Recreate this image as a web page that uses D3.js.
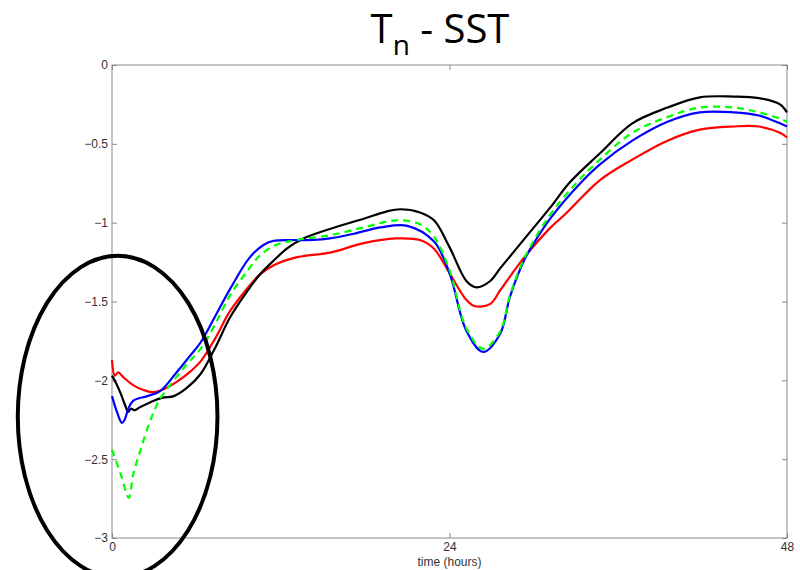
<!DOCTYPE html>
<html>
<head>
<meta charset="utf-8">
<script src="https://cdn.jsdelivr.net/npm/d3@7"></script>
<style>
  body { margin: 0; background: white; }
  svg { display: block; }
</style>
</head>
<body>
<svg width="800" height="570"></svg>
<script>
// data: [time (hours), Tn - SST]
var blackPts = [[0,-1.97],[0.3,-2.02],[0.6,-2.08],[0.9,-2.15],[1.15,-2.20],[1.35,-2.18],[1.6,-2.19],[2.0,-2.17],
  [2.7,-2.14],[3.6,-2.11],[4.4,-2.10],[5.3,-2.05],[6.3,-1.96],[7.3,-1.80],[8.4,-1.60],[9.5,-1.45],[10.5,-1.33],
  [11.5,-1.24],[12.5,-1.16],[13.6,-1.10],[15.5,-1.04],[17.9,-0.975],[19.5,-0.93],[20.5,-0.915],[21.9,-0.935],
  [22.9,-0.985],[24.0,-1.155],[25.2,-1.37],[25.9,-1.41],[26.9,-1.37],[27.6,-1.29],[28.8,-1.16],[30,-1.03],
  [31.2,-0.90],[32.5,-0.75],[34.7,-0.56],[37,-0.37],[39.5,-0.27],[41.8,-0.205],[44.2,-0.20],[46,-0.21],
  [47.5,-0.25],[48,-0.30]];

var redPts = [[0,-1.87],[0.2,-1.97],[0.45,-1.95],[0.8,-1.98],[1.5,-2.03],[2.2,-2.06],[2.9,-2.075],[3.6,-2.06],
  [4.6,-2.01],[5.5,-1.95],[6.3,-1.88],[7.3,-1.74],[8.4,-1.56],[9.5,-1.43],[10.5,-1.33],[11.5,-1.27],[13.1,-1.22],
  [15.5,-1.19],[17.9,-1.13],[20.2,-1.10],[21.9,-1.11],[22.9,-1.165],[24.0,-1.32],[25.2,-1.49],[25.8,-1.53],
  [26.9,-1.515],[27.6,-1.43],[28.8,-1.28],[29.5,-1.20],[31.2,-1.03],[32.3,-0.94],[34.7,-0.73],[37,-0.60],
  [39.5,-0.48],[41.8,-0.41],[44.2,-0.39],[46,-0.39],[47.5,-0.43],[48,-0.46]];

var bluePts = [[0,-2.10],[0.35,-2.20],[0.7,-2.27],[0.9,-2.25],[1.16,-2.18],[1.5,-2.13],[2.5,-2.10],[3.4,-2.07],
  [4.5,-1.96],[5.5,-1.85],[6.3,-1.76],[7.3,-1.60],[8.4,-1.42],[9.8,-1.22],[10.8,-1.14],[11.5,-1.115],[12.7,-1.11],
  [14.3,-1.11],[15.5,-1.10],[17.2,-1.07],[19.1,-1.03],[21,-1.02],[22.9,-1.12],[24.0,-1.32],[25.2,-1.685],
  [26.4,-1.82],[27.6,-1.705],[28.3,-1.47],[29.3,-1.24],[30,-1.13],[31.2,-0.97],[33.3,-0.75],[34.7,-0.63],
  [37,-0.48],[39.5,-0.36],[41.8,-0.30],[44.2,-0.30],[46,-0.32],[47.5,-0.37],[48,-0.39]];

var greenPts = [[0,-2.44],[0.6,-2.59],[1.2,-2.745],[1.5,-2.60],[2.0,-2.45],[2.7,-2.26],[3.4,-2.12],[4.4,-2.00],
  [5.3,-1.90],[6.3,-1.80],[7.3,-1.65],[8.4,-1.46],[9.6,-1.31],[10.5,-1.21],[11.7,-1.14],[13.1,-1.11],[15.5,-1.08],
  [17.9,-1.03],[20.2,-0.985],[21.9,-1.01],[22.9,-1.09],[24.0,-1.30],[25.2,-1.67],[26.4,-1.80],[27.6,-1.69],
  [28.3,-1.46],[29.3,-1.23],[31.0,-0.97],[33.0,-0.75],[34.7,-0.60],[37,-0.43],[39.5,-0.33],[41.8,-0.27],
  [44.2,-0.27],[46,-0.30],[47.5,-0.34],[48,-0.36]];

var xTicks = [0, 24, 48];
var yTicks = [0, -0.5, -1, -1.5, -2, -2.5, -3];

// ellipse marking the first hours: centre (t, v) and radii in data units
var ringCentre = [0.4, -2.23];
var ringRadius = [7.1, 1.02];

var svg = d3.select("svg");

var x = d3.scaleLinear().domain([0, 48]).range([112, 787]);
var y = d3.scaleLinear().domain([-3, 0]).range([538, 65]);

var axisColor = "#8a8a8a";
var fmt = function(d){ return d < 0 ? "\u2212" + Math.abs(d) : String(d); };

// title
var title = svg.append("text")
  .attr("x", 440)
  .attr("y", 43)
  .attr("text-anchor", "middle")
  .style("font-family", "'Open Sans', sans-serif")
  .style("font-size", "40px")
  .style("fill", "black");
title.append("tspan").text("T");
title.append("tspan").attr("dy", 12).style("font-size", "28px").text("n");
title.append("tspan").attr("dy", -12).text(" - SST");

// box
svg.append("rect")
  .attr("x", x(0)).attr("y", y(0))
  .attr("width", x(48) - x(0)).attr("height", y(-3) - y(0))
  .attr("fill", "none")
  .attr("stroke", axisColor)
  .attr("stroke-width", 1);

// axes with inward ticks
var gBottom = svg.append("g").attr("transform", "translate(0," + y(-3) + ")")
  .call(d3.axisBottom(x).tickValues(xTicks).tickSizeInner(-5).tickSizeOuter(0).tickPadding(5));
var gLeft = svg.append("g").attr("transform", "translate(" + x(0) + ",0)")
  .call(d3.axisLeft(y).tickValues(yTicks).tickFormat(fmt).tickSizeInner(-5).tickSizeOuter(0).tickPadding(4));
var gTop = svg.append("g").attr("transform", "translate(0," + y(0) + ")")
  .call(d3.axisTop(x).tickValues(xTicks).tickSizeInner(-5).tickSizeOuter(0).tickFormat(""));
var gRight = svg.append("g").attr("transform", "translate(" + x(48) + ",0)")
  .call(d3.axisRight(y).tickValues(yTicks).tickSizeInner(-5).tickSizeOuter(0).tickFormat(""));

[gBottom, gLeft, gTop, gRight].forEach(function(g){
  g.select(".domain").remove();
  g.selectAll("line").attr("stroke", axisColor);
  g.selectAll("text")
    .style("font-family", "'Liberation Sans', Arial, sans-serif")
    .style("font-size", "12px")
    .attr("fill", "#333");
});
// labels sit outside the box, not at the inner end of the tick
gLeft.selectAll("text").attr("x", -4);
gBottom.selectAll("text").attr("y", 4);

svg.append("text")
  .attr("x", x(24))
  .attr("y", 566)
  .attr("text-anchor", "middle")
  .style("font-family", "'Liberation Sans', Arial, sans-serif")
  .style("font-size", "12px")
  .attr("fill", "#333")
  .text("time (hours)");

// lines
var line = d3.line()
  .x(function(d){ return x(d[0]); })
  .y(function(d){ return y(d[1]); })
  .curve(d3.curveCatmullRom.alpha(0.5));

var series = [
  {pts: redPts, color: "#ff0000", dash: null},
  {pts: blackPts, color: "#000000", dash: null},
  {pts: bluePts, color: "#0000ff", dash: null},
  {pts: greenPts, color: "#00ff00", dash: "7,5"}
];

for (var i = 0; i < series.length; i++) {
  svg.append("path")
    .attr("d", line(series[i].pts))
    .attr("fill", "none")
    .attr("stroke", series[i].color)
    .attr("stroke-width", 2.2)
    .attr("stroke-dasharray", series[i].dash);
};

// ellipse
svg.append("ellipse")
  .attr("cx", x(ringCentre[0]))
  .attr("cy", y(ringCentre[1]))
  .attr("rx", x(ringRadius[0]) - x(0))
  .attr("ry", y(-ringRadius[1]) - y(0))
  .attr("fill", "none")
  .attr("stroke", "black")
  .attr("stroke-width", 4);
</script>
</body>
</html>
